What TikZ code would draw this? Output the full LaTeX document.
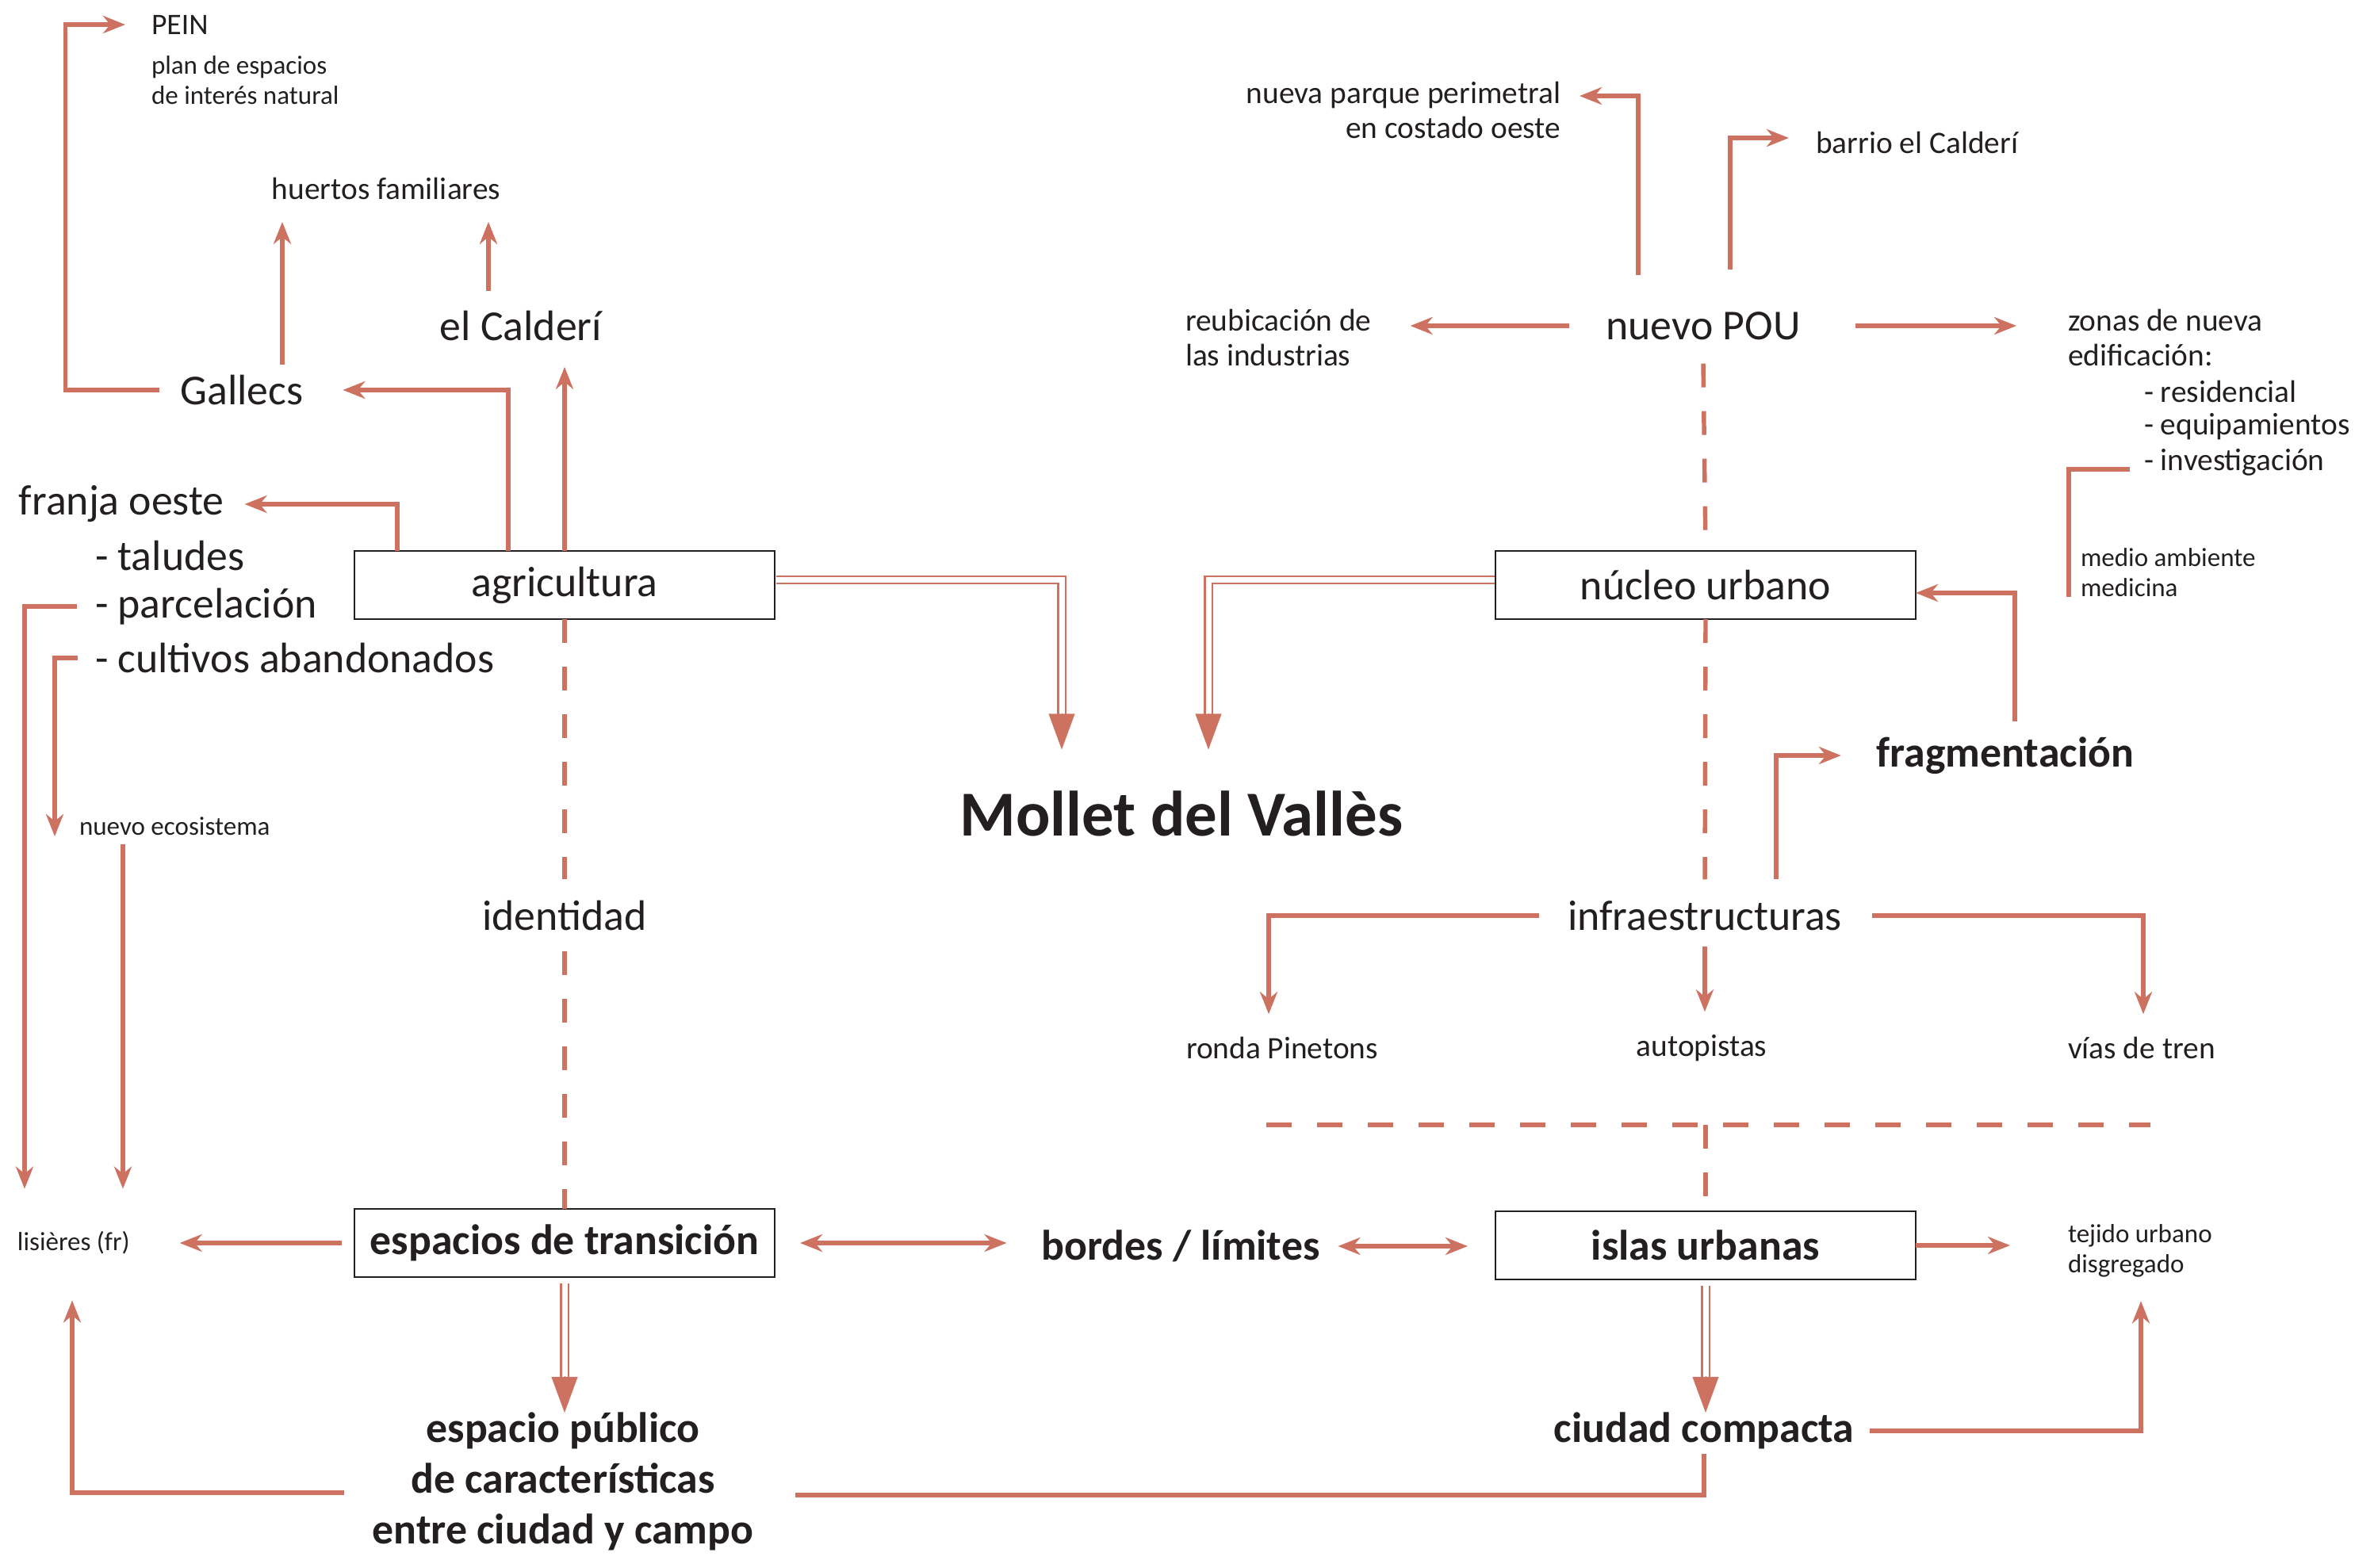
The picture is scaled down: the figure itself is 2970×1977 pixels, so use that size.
\documentclass[tikz,border=0pt]{standalone}
\usepackage{fontspec}
\setmainfont{Carlito}
\usetikzlibrary{arrows.meta}
\definecolor{rojo}{RGB}{205,113,97}
\definecolor{tinta}{RGB}{35,31,32}
\newcommand\tmain{\fontsize{15.3}{18.2}\selectfont}
\newcommand\tmid{\fontsize{11.2}{12.6}\selectfont}
\newcommand\tsmall{\fontsize{9.4}{10.8}\selectfont}
\begin{document}
\begin{tikzpicture}[x=0.1mm,y=-0.1mm,
  >={Stealth[length=2.8mm,width=2.2mm,inset=0.9mm]},
  txt/.style={inner sep=0pt,outer sep=0pt,text=tinta,font=\tmain},
  txtmid/.style={txt,font=\tmid},
  txtsmall/.style={txt,font=\tsmall},
  caja/.style={txt,draw=tinta,line width=0.8pt,minimum width=53mm,minimum height=8.6mm},
  linea/.style={draw=rojo,line width=1.55pt},
  conn/.style={linea,->},
  dashv/.style={linea,dash pattern=on 3mm off 3mm},
  dashh/.style={draw=rojo,line width=1.9pt,dash pattern=on 3.2mm off 3.2mm},
  dbl/.style={draw=rojo,line width=0.6pt,double=white,double distance=0.7mm},
  punta/.style={draw=rojo,fill=rojo,line width=0.1pt,-{Triangle[length=4.5mm,width=3.3mm]}}]
\useasboundingbox (0,0) rectangle (2970,1977);

\node[txt,font=\fontsize{10.7}{12}\selectfont,anchor=west] (pein) at (191,31) {PEIN};
\node[txtsmall,anchor=west,align=left] (plan) at (191,101) {plan de espacios\\de interés natural};
\node[txtmid] (huertos) at (487,238) {huertos familiares};
\node[txt] (calderi) at (657,411) {el Calderí};
\node[txt] (gallecs) at (305,492) {Gallecs};
\node[txt,anchor=west] (franja) at (24,636) {franja oeste};
\node[txt,anchor=west] (taludes) at (120,701) {- taludes};
\node[txt,anchor=west] (parcel) at (120,765) {- parcelación};
\node[txt,anchor=west] (cultivos) at (120,830) {- cultivos abandonados};
\node[txtsmall,anchor=west] (ecosis) at (100,1042) {nuevo ecosistema};
\node[txtsmall,anchor=west] (lisieres) at (22,1568) {lisières (fr)};
\node[caja] (agri) at (712,738) {agricultura};
\node[txt] (identidad) at (712,1155) {identidad};
\node[caja,font=\tmain\bfseries] (trans) at (712,1568) {espacios de transición};
\node[txt,font=\tmain\bfseries,align=center] (publico) at (710,1869) {espacio público\\de características\\entre ciudad y campo};
\node[txt,font=\fontsize{23}{27}\selectfont\bfseries] (mollet) at (1490,1026) {Mollet del Vallès};
\node[txt,font=\tmain\bfseries] (bordes) at (1489,1572) {bordes / límites};
\node[caja] (nucleo) at (2151,738) {núcleo urbano};
\node[caja,font=\tmain\bfseries] (islas) at (2151,1571) {islas urbanas};
\node[txt,font=\tmain\bfseries] (ciudad) at (2149,1805) {ciudad compacta};
\node[txtsmall,anchor=west,align=left] (tejido) at (2608,1578) {tejido urbano\\disgregado};
\node[txt] (pou) at (2148,411) {nuevo POU};
\node[txtmid,anchor=west,align=left] (reubic) at (1495,426) {reubicación de\\las industrias};
\node[txtmid,anchor=east,align=right] (parque) at (1968,139) {nueva parque perimetral\\en costado oeste};
\node[txtmid,anchor=west] (barrio) at (2290,180) {barrio el Calderí};
\node[txtmid,anchor=west,align=left] (zonas) at (2608,426) {zonas de nueva\\edificación:};
\node[txtmid,anchor=west] (resid) at (2704,494) {- residencial};
\node[txtmid,anchor=west] (equip) at (2704,538) {- equipamientos};
\node[txtmid,anchor=west] (invest) at (2704,583) {- investigación};
\node[txtsmall,anchor=west,align=left] (medio) at (2624,722) {medio ambiente\\medicina};
\node[txt,font=\tmain\bfseries] (frag) at (2529,953) {fragmentación};
\node[txt] (infra) at (2150,1155) {infraestructuras};
\node[txtmid,anchor=west] (ronda) at (1496,1322) {ronda Pinetons};
\node[txtmid] (autop) at (2146,1322) {autopistas};
\node[txtmid,anchor=west] (vias) at (2608,1322) {vías de tren};
\coordinate (divL) at (1597,1419);
\coordinate (divR) at (2712,1419);

\draw[conn] ([xshift=-2.7mm]gallecs.west) -- ++(-118,0) |- ([xshift=-3.3mm]pein.west);
\draw[conn] ([xshift=5.1mm,yshift=1.3mm]gallecs.north) -- ([xshift=5.1mm,yshift=-2.8mm]gallecs.north |- huertos.south);
\draw[conn] ([xshift=-4.1mm,yshift=2.5mm]calderi.north) -- ([xshift=-4.1mm,yshift=-2.8mm]calderi.north |- huertos.south);
\draw[conn] ([xshift=-7.1mm]agri.north) |- ([xshift=5mm]gallecs.east);
\draw[conn] (agri.north) -- ([yshift=-3.3mm]agri.north |- calderi.south);
\draw[conn] ([xshift=-21.1mm]agri.north) |- ([xshift=2.6mm]franja.east);
\draw[conn] ([xshift=-2.3mm]parcel.west) -| ([xshift=0.9mm,yshift=5.4mm]lisieres.north west);
\draw[conn] ([xshift=-2.2mm]cultivos.west) -| ([xshift=-3.1mm,yshift=-1.3mm]ecosis.west);
\draw[conn] ([xshift=5.5mm,yshift=-1.1mm]ecosis.south west) -- ([xshift=5.5mm,yshift=5.4mm]ecosis.south west |- lisieres.north);
\draw[conn] ([xshift=-1.6mm]trans.west) -- ([xshift=6.3mm]trans.west -| lisieres.east);
\draw[conn] ([xshift=-3.6mm,yshift=-1.4mm]publico.west) -| ([xshift=6.9mm,yshift=-5.8mm]lisieres.south west);
\draw[linea] ([xshift=5.3mm,yshift=-1.7mm]publico.east) -| ([yshift=-0.6mm]ciudad.south);
\draw[conn] ([xshift=2mm]ciudad.east) -| ([xshift=9.2mm,yshift=-3mm]tejido.south west);
\draw[conn] (islas.east) -- ([xshift=-7.3mm]islas.east -| tejido.west);
\draw[conn,<->] ([xshift=3.2mm]trans.east) -- ([xshift=-4.4mm]trans.east -| bordes.west);
\draw[conn,<->] ([xshift=2.3mm]bordes.east) -- ([xshift=-3.5mm]bordes.east -| islas.west);

\draw[dbl] ([xshift=0.15mm,yshift=0.65mm]agri.east) -| ([xshift=-15.1mm,yshift=9.6mm]mollet.north);
\draw[punta] ([xshift=-15.1mm,yshift=9.7mm]mollet.north) -- ([xshift=-15.1mm,yshift=5.2mm]mollet.north);
\draw[dbl] ([xshift=-0.15mm,yshift=0.65mm]nucleo.west) -| ([xshift=3.4mm,yshift=9.6mm]mollet.north);
\draw[punta] ([xshift=3.4mm,yshift=9.7mm]mollet.north) -- ([xshift=3.4mm,yshift=5.2mm]mollet.north);
\draw[dbl] ([yshift=-0.8mm]trans.south) -- ([yshift=4.5mm]trans.south |- publico.north);
\draw[punta] ([yshift=4.6mm]trans.south |- publico.north) -- (trans.south |- publico.north);
\draw[dbl] ([yshift=-0.8mm]islas.south) -- ([yshift=4.5mm]islas.south |- ciudad.north);
\draw[punta] ([yshift=4.6mm]islas.south |- ciudad.north) -- (islas.south |- ciudad.north);

\draw[dashv] (agri.south) -- ([yshift=2.7mm]identidad.north);
\draw[dashv] ([yshift=-2.6mm]identidad.south) -- (trans.north);
\draw[dashv] ([yshift=-3mm]pou.south) -- (nucleo.north);
\draw[dashv] (nucleo.south) -- ([yshift=2.7mm]infra.north);
\draw[dashh] (divL) -- (divR);
\draw[dashv] (islas.north |- divL) -- ([yshift=1.4mm]islas.north);

\draw[conn] ([xshift=-4.6mm]pou.west) -- ([xshift=4.9mm]pou.west -| reubic.east);
\draw[conn] ([xshift=6.9mm]pou.east) -- ([xshift=-6.5mm]pou.east -| zonas.west);
\draw[conn] ([xshift=-8.2mm,yshift=4.6mm]pou.north) |- ([xshift=2.4mm,yshift=1.8mm]parque.east);
\draw[conn] ([xshift=3.4mm,yshift=5.3mm]pou.north) |- ([xshift=-3.4mm,yshift=0.6mm]barrio.west);
\draw[linea] ([xshift=-1.8mm,yshift=-0.9mm]invest.west) -| ([xshift=-1.5mm]medio.south west);
\draw[conn] ([xshift=1.2mm,yshift=2mm]frag.north) |- ([yshift=-1mm]nucleo.east);
\draw[conn] ([xshift=9mm,yshift=2.7mm]infra.north) |- ([xshift=-4.5mm]frag.west);
\draw[conn] ([yshift=-2mm]infra.south) -- ([yshift=2.9mm]infra.south |- autop.north);
\draw[conn] ([xshift=-3.6mm]infra.west) -| ([xshift=10.4mm,yshift=2.9mm]ronda.north west);
\draw[conn] ([xshift=3.8mm]infra.east) -| ([xshift=9.5mm,yshift=2.9mm]vias.north west);
\end{tikzpicture}
\end{document}
